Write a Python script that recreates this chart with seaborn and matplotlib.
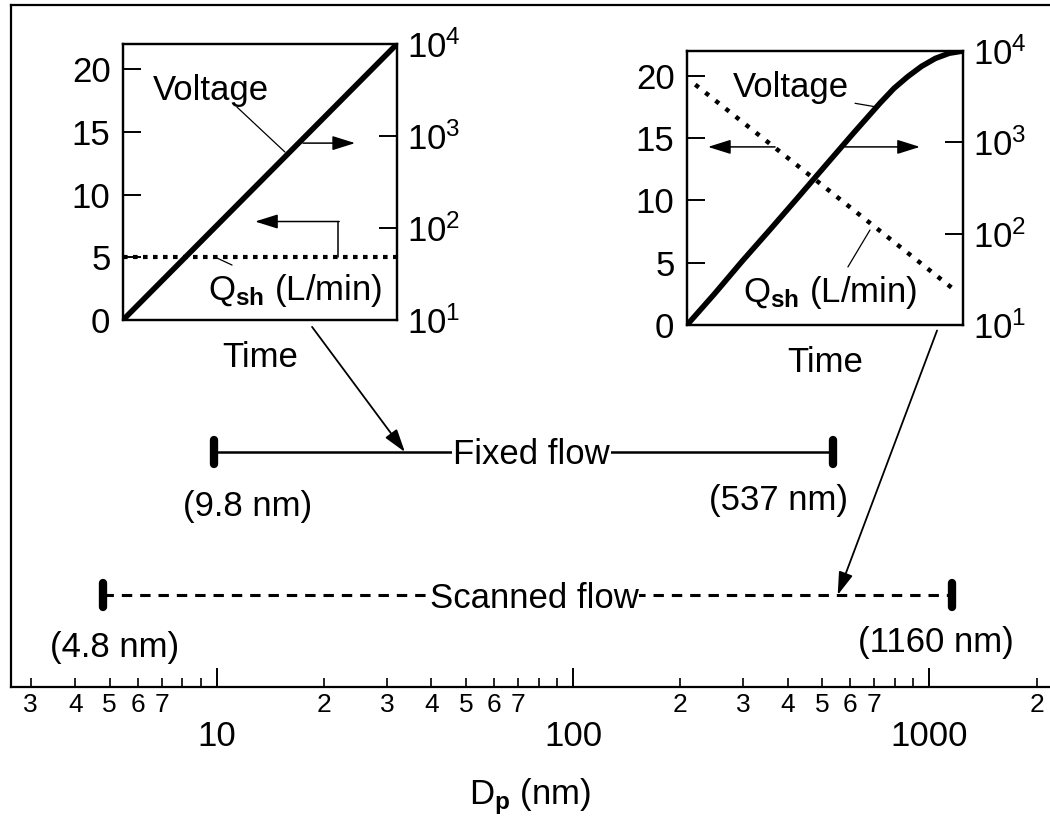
import numpy as np
import matplotlib
matplotlib.use("Agg")
import matplotlib.pyplot as plt
from matplotlib.ticker import FixedLocator, FuncFormatter, NullLocator
import seaborn as sns

# ---- data -------------------------------------------------------------
# particle-size ranges (nm)
fixed_range = [9.8, 537]
scanned_range = [4.8, 1160]
range_names = ["Fixed flow", "Scanned flow"]

# main axis ticks
major_ticks = [10, 100, 1000]
major_labels = ["10", "100", "1000"]
minor_ticks = [3, 4, 5, 6, 7, 8, 9,
               20, 30, 40, 50, 60, 70, 80, 90,
               200, 300, 400, 500, 600, 700, 800, 900, 2000]
minor_labeled_digits = [2, 3, 4, 5, 6, 7]

# inset: fixed-flow mode (time normalised 0..1)
fixed_time = [0.0, 1.0]
fixed_voltage = [10, 10000]
fixed_qsh_time = [0.0, 1.0]
fixed_qsh = [5, 5]

# inset: scanned-flow mode
scan_time = [0.0, 0.1, 0.2, 0.3, 0.4, 0.5, 0.6, 0.7, 0.75, 0.8, 0.85,
             0.9, 0.95, 1.0]
scan_voltage = [10, 22, 50, 110, 245, 550, 1230, 2700, 3900, 5250, 6800,
                8300, 9450, 10000]
scan_qsh_time = [0.03, 0.97]
scan_qsh = [19.3, 2.8]

qsh_ticks = [0, 5, 10, 15, 20]
volt_ticks = [10, 100, 1000, 10000]

# ---- style ------------------------------------------------------------
sns.set_theme(style="white")
plt.rcParams["font.family"] = ["Liberation Sans", "DejaVu Sans"]
plt.rcParams["mathtext.fontset"] = "custom"
plt.rcParams["mathtext.rm"] = "Liberation Sans"
plt.rcParams["mathtext.it"] = "Liberation Sans:italic"
plt.rcParams["mathtext.bf"] = "Liberation Sans:bold"
plt.rcParams["axes.edgecolor"] = "black"
plt.rcParams["axes.labelcolor"] = "black"
plt.rcParams["text.color"] = "black"
plt.rcParams["xtick.color"] = "black"
plt.rcParams["ytick.color"] = "black"

FS = 25
W, H = 1050, 825
fig = plt.figure(figsize=(W / 100, H / 100), dpi=100)

# ---- main size axis -----------------------------------------------------
ax = fig.add_axes([11 / W, 1 - 687 / H, (1062 - 11) / W, (687 - 5) / H])
ax.set_xscale("log")
decade = 356.3
ax.set_xlim(10 ** (1 - (217 - 11) / decade), 10 ** (3 + (1062 - 929.3) / decade))
ax.set_ylim(0, 1)
ax.set_yticks([])
for s in ax.spines.values():
    s.set_linewidth(1.6)
    s.set_color("black")

ax.xaxis.set_major_locator(FixedLocator(major_ticks))
ax.xaxis.set_major_formatter(FuncFormatter(
    lambda v, p: major_labels[major_ticks.index(v)] if v in major_ticks else ""))
ax.xaxis.set_minor_locator(FixedLocator(minor_ticks))


def minor_fmt(v, pos):
    lead = int(round(v / 10 ** np.floor(np.log10(v) + 1e-9)))
    return str(lead) if lead in minor_labeled_digits else ""


ax.xaxis.set_minor_formatter(FuncFormatter(minor_fmt))
ax.tick_params(axis="x", which="major", direction="in", length=14, width=1.4,
               labelsize=FS, pad=24, bottom=True)
ax.tick_params(axis="x", which="minor", direction="in", length=6.5, width=1.2,
               labelsize=19, pad=4.5, bottom=True)
ax.set_xlabel(r"D$_\mathbf{p}$ (nm)", fontsize=FS)
ax.xaxis.set_label_coords(0.494, -0.131)

# range bars
y_fixed = (687 - 452) / 682
y_scan = (687 - 595) / 682
sns.lineplot(x=fixed_range, y=[y_fixed, y_fixed], ax=ax, color="black",
             lw=1.8, estimator=None, sort=False, legend=False)
sns.lineplot(x=scanned_range, y=[y_scan, y_scan], ax=ax, color="black",
             lw=2.2, linestyle=(0, (3.4, 2.6)), estimator=None, sort=False,
             legend=False)
cap = 0.017
for v, yy in [(fixed_range[0], y_fixed), (fixed_range[1], y_fixed),
              (scanned_range[0], y_scan), (scanned_range[1], y_scan)]:
    ax.plot([v, v], [yy - cap, yy + cap], color="black", lw=6,
            solid_capstyle="round")

# range names centred on the bars
for name, rng, yy in [(range_names[0], fixed_range, y_fixed),
                      (range_names[1], scanned_range, y_scan)]:
    xc = 76.4 if name == range_names[0] else 77.8
    ax.annotate(name, xy=(xc, yy), xytext=(0, -9), textcoords="offset points",
                ha="center", va="baseline", fontsize=FS,
                bbox=dict(fc="white", ec="none", pad=0.5))

# end labels
end_offsets = {fixed_range[0]: (24.5, -39), fixed_range[1]: (-39, -35),
               scanned_range[0]: (8, -38), scanned_range[1]: (-11.5, -34.5)}
for v, yy in [(fixed_range[0], y_fixed), (fixed_range[1], y_fixed),
              (scanned_range[0], y_scan), (scanned_range[1], y_scan)]:
    ax.annotate(f"({v:g} nm)", xy=(v, yy), xytext=end_offsets[v],
                textcoords="offset points", ha="center", va="center",
                fontsize=FS)


# ---- inset helper -------------------------------------------------------
def make_inset(x0, y0, x1, y1):
    a = fig.add_axes([x0 / W, 1 - y1 / H, (x1 - x0) / W, (y1 - y0) / H])
    a.set_xlim(0, 1)
    a.set_ylim(0, 22)
    a.set_xticks([])
    a.set_yticks(qsh_ticks)
    a.tick_params(axis="y", direction="in", length=13, width=1.4,
                  labelsize=FS, pad=9, left=True)
    a.set_xlabel("Time", fontsize=FS, labelpad=15)
    for s in a.spines.values():
        s.set_linewidth(1.6)
        s.set_color("black")
    r = a.twinx()
    r.set_yscale("log")
    r.set_ylim(10, 10000)
    r.set_yticks(volt_ticks)
    r.yaxis.set_minor_locator(NullLocator())
    r.tick_params(axis="y", which="major", direction="in", length=13,
                  width=1.4, labelsize=FS, pad=7, right=True)
    for s in r.spines.values():
        s.set_linewidth(1.6)
        s.set_color("black")
    return a, r


arrow_kw = dict(arrowstyle="-|>,head_length=0.7,head_width=0.22",
                color="black", lw=1.1, mutation_scale=20,
                shrinkA=0, shrinkB=0)
leader_kw = dict(color="black", lw=0.9)

# fixed-flow inset
axL, axLr = make_inset(123, 44, 397, 320)
sns.lineplot(x=fixed_qsh_time, y=fixed_qsh, ax=axL, color="black", lw=3.0,
             linestyle=(0, (1.1, 1.3)), estimator=None, legend=False)
sns.lineplot(x=fixed_time, y=fixed_voltage, ax=axLr, color="black", lw=4,
             estimator=None, legend=False)
axL.text(0.11, 17.5, "Voltage", fontsize=FS, ha="left", va="baseline")
axL.plot([0.416, 0.591], [16.97, 13.39], **leader_kw)
axL.annotate("", xy=(0.847, 14.1), xytext=(0.657, 14.1), arrowprops=arrow_kw)
axL.plot([0.785, 0.785], [5, 7.85], color="black", lw=1.1)
axL.annotate("", xy=(0.482, 7.85), xytext=(0.789, 7.85), arrowprops=arrow_kw)
axL.text(0.31, 1.6, r"Q$_\mathbf{sh}$ (L/min)", fontsize=FS, ha="left",
         va="baseline")
axL.plot([0.343, 0.398], [4.94, 4.38], **leader_kw)

# scanned-flow inset
axR, axRr = make_inset(687, 51, 963, 325)
sns.lineplot(x=scan_qsh_time, y=scan_qsh, ax=axR, color="black", lw=3.2,
             linestyle=(0, (1.0, 1.9)), estimator=None, legend=False)
sns.lineplot(x=scan_time, y=scan_voltage, ax=axRr, color="black", lw=4,
             estimator=None, legend=False)
axR.text(0.167, 18.3, "Voltage", fontsize=FS, ha="left", va="baseline")
axR.plot([0.609, 0.688], [17.8, 17.5], **leader_kw)
axR.annotate("", xy=(0.076, 14.3), xytext=(0.319, 14.3), arrowprops=arrow_kw)
axR.annotate("", xy=(0.844, 14.3), xytext=(0.572, 14.3), arrowprops=arrow_kw)
axR.text(0.203, 1.85, r"Q$_\mathbf{sh}$ (L/min)", fontsize=FS, ha="left",
         va="baseline")
axR.plot([0.663, 0.583], [7.63, 4.66], **leader_kw)

# arrows linking each inset to its size range
ax.annotate("", xy=(33.7, y_fixed), xycoords="data",
            xytext=(0.69, -0.025), textcoords=axL.transAxes,
            arrowprops=dict(arrow_kw, lw=1.3))
ax.annotate("", xy=(553, y_scan), xycoords="data",
            xytext=(0.906, -0.02), textcoords=axR.transAxes,
            arrowprops=dict(arrow_kw, lw=1.3))

fig.savefig("out.png", dpi=100)
